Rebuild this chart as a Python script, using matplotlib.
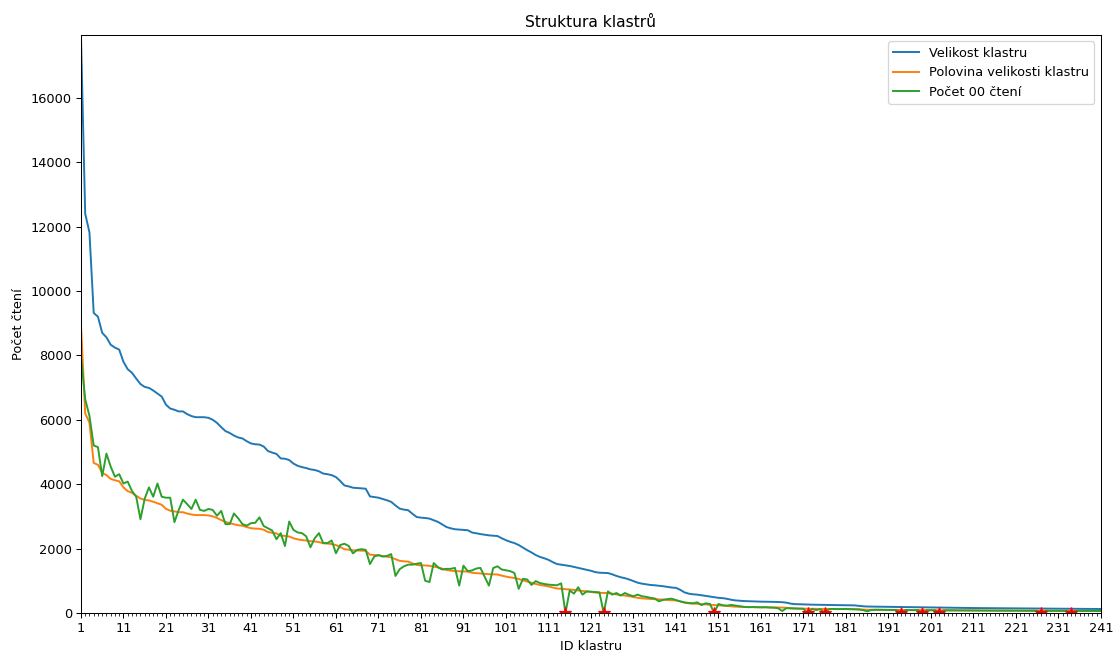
import matplotlib
matplotlib.use("Agg")
import matplotlib.pyplot as plt
from matplotlib.ticker import MultipleLocator
import numpy as np

cluster_ids = list(range(1, 242))

cluster_sizes = [
    17950, 12400, 11820, 9320, 9200, 8700, 8560, 8330, 8240, 8180,
    7800, 7570, 7460, 7280, 7110, 7020, 6990, 6910, 6815, 6720,
    6470, 6350, 6310, 6260, 6260, 6175, 6115, 6080, 6080, 6080,
    6060, 6000, 5905, 5770, 5650, 5590, 5510, 5450, 5420, 5335,
    5265, 5240, 5230, 5170, 5030, 4980, 4940, 4800, 4790, 4750,
    4640, 4570, 4530, 4500, 4460, 4440, 4400, 4330, 4310, 4280,
    4220, 4100, 3960, 3930, 3890, 3880, 3870, 3860, 3620, 3600,
    3580, 3540, 3500, 3450, 3340, 3240, 3210, 3190, 3080, 2980,
    2960, 2950, 2930, 2880, 2830, 2750, 2670, 2630, 2600, 2590,
    2580, 2570, 2500, 2475, 2450, 2430, 2410, 2400, 2390, 2320,
    2260, 2210, 2170, 2110, 2030, 1950, 1880, 1800, 1740, 1700,
    1650, 1580, 1520, 1500, 1480, 1460, 1430, 1400, 1370, 1340,
    1310, 1270, 1250, 1245, 1240, 1200, 1150, 1110, 1080, 1040,
    990, 940, 910, 890, 870, 860, 845, 830, 810, 790,
    780, 720, 640, 600, 580, 570, 550, 530, 510, 490,
    470, 460, 440, 410, 390, 380, 370, 365, 360, 355,
    352, 350, 348, 345, 340, 335, 320, 290, 275, 270,
    265, 262, 258, 255, 252, 250, 248, 246, 244, 242,
    240, 238, 236, 222, 208, 200, 198, 196, 194, 192,
    190, 188, 186, 184, 182, 180, 178, 176, 174, 172,
    170, 168, 166, 164, 162, 160, 158, 156, 155, 154,
    153, 152, 151, 150, 149, 148, 147, 146, 145, 144,
    143, 142, 141, 140, 139, 138, 137, 136, 135, 134,
    133, 132, 131, 130, 129, 128, 127, 126, 125, 124,
    123,
]

zero_reads = [
    7980, 6640, 6120, 5200, 5150, 4250, 4950, 4545, 4230, 4310,
    4020, 4080, 3790, 3610, 2910, 3550, 3900, 3610, 4020, 3610,
    3580, 3580, 2820, 3200, 3520, 3380, 3230, 3520, 3200, 3170,
    3230, 3200, 3020, 3170, 2760, 2760, 3090, 2940, 2760, 2710,
    2790, 2800, 2970, 2700, 2630, 2560, 2290, 2480, 2080, 2840,
    2580, 2500, 2480, 2380, 2040, 2320, 2480, 2170, 2170, 2250,
    1854, 2110, 2150, 2080, 1850, 1960, 1980, 1960, 1520, 1750,
    1800, 1750, 1770, 1830, 1150, 1360, 1450, 1500, 1500, 1530,
    1550, 1000, 960, 1550, 1420, 1350, 1370, 1370, 1400, 850,
    1470, 1300, 1320, 1380, 1400, 1120, 850, 1395, 1450, 1350,
    1325, 1300, 1240, 750, 1060, 1040, 870, 990, 930, 900,
    880, 870, 860, 920, 0, 700, 600, 800, 570, 670,
    660, 650, 640, 0, 670, 570, 620, 540, 620, 560,
    520, 570, 520, 500, 470, 450, 360, 410, 430, 445,
    400, 360, 330, 310, 300, 330, 245, 300, 280, 0,
    280, 240, 225, 250, 230, 210, 190, 180, 185, 180,
    175, 180, 170, 165, 150, 60, 150, 145, 140, 135,
    130, 0, 125, 90, 120, 0, 120, 125, 120, 122,
    125, 118, 115, 110, 90, 50, 95, 100, 98, 95,
    96, 94, 92, 0, 92, 90, 89, 88, 0, 86,
    85, 84, 0, 82, 81, 80, 79, 78, 77, 77,
    76, 76, 75, 75, 74, 74, 73, 73, 72, 72,
    71, 71, 70, 70, 69, 68, 0, 68, 67, 67,
    66, 66, 65, 0, 65, 64, 64, 63, 63, 62,
    62,
]

ids = np.array(cluster_ids)
sizes = np.array(cluster_sizes, dtype=float)
half = sizes / 2
zeros_g = np.array(zero_reads, dtype=float)
empty_ids = ids[zeros_g == 0]

DPI = 93
fig = plt.figure(figsize=(1115 / DPI, 653 / DPI), dpi=DPI)
ax = fig.add_axes([0.0726, 0.0613, 0.9148, 0.8851])

ax.plot(ids, sizes, label="Velikost klastru")
ax.plot(ids, half, label="Polovina velikosti klastru")
ax.plot(ids, zeros_g, label="Počet 00 čtení")
ax.plot(empty_ids, np.zeros(len(empty_ids)), linestyle="none", marker="*",
        color="red", markersize=9)

ax.set_xlim(1, 241)
ax.set_ylim(0, sizes.max())
ax.set_xticks(list(range(1, 242, 10)))
ax.xaxis.set_minor_locator(MultipleLocator(1))
ax.set_title("Struktura klastrů")
ax.set_xlabel("ID klastru")
ax.set_ylabel("Počet čtení")
ax.legend(loc="upper right")

fig.savefig("out.png", dpi=DPI)
